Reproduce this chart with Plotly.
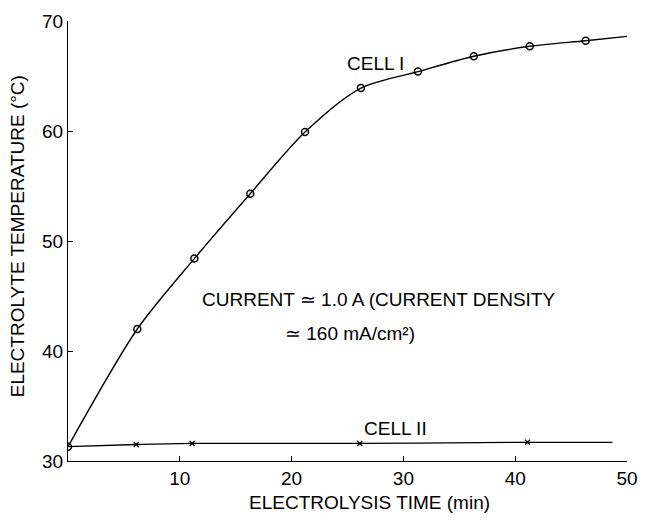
import plotly.graph_objects as go

# ---- data ----
cell1_t = [0, 6.2, 11.3, 16.3, 21.2, 26.2, 31.3, 36.3, 41.3, 46.3]
cell1_T = [31.3, 42.0, 48.4, 54.3, 59.9, 63.9, 65.4, 66.8, 67.7, 68.2]
cell1_curve_t = cell1_t + [50.0]
cell1_curve_T = cell1_T + [68.6]

cell2_t = [6.1, 11.1, 26.1, 41.1]
cell2_T = [31.5, 31.6, 31.6, 31.7]
cell2_line_t = [0] + cell2_t + [48.7]
cell2_line_T = [31.3] + cell2_T + [31.7]

x_ticks = [10, 20, 30, 40, 50]
y_ticks = [30, 40, 50, 60, 70]

FONT = "Liberation Sans, Arial, Helvetica, sans-serif"

fig = go.Figure()
fig.add_trace(go.Scatter(x=cell1_curve_t, y=cell1_curve_T, mode="lines",
                         line=dict(color="black", width=1.4, shape="spline", smoothing=0.8),
                         hoverinfo="skip", showlegend=False))
fig.add_trace(go.Scatter(x=cell1_t, y=cell1_T, mode="markers",
                         marker=dict(symbol="circle-open", size=7, color="black",
                                     line=dict(width=1.5, color="black")),
                         showlegend=False))
fig.add_trace(go.Scatter(x=cell2_line_t, y=cell2_line_T, mode="lines",
                         line=dict(color="black", width=1.3, shape="spline"),
                         hoverinfo="skip", showlegend=False))
fig.add_trace(go.Scatter(x=cell2_t, y=cell2_T, mode="markers",
                         marker=dict(symbol="x-thin-open", size=5, color="black",
                                     line=dict(width=1.4, color="black")),
                         showlegend=False))

ann_font = dict(family=FONT, size=19, color="black")
fig.add_annotation(x=27.5, y=66.1, text="CELL I", showarrow=False, font=ann_font,
                   xanchor="center", yanchor="middle")
fig.add_annotation(x=29.3, y=33.0, text="CELL II", showarrow=False, font=ann_font,
                   xanchor="center", yanchor="middle")
fig.add_annotation(x=(203 - 68) / 11.4, y=30 + (461 - 298) / 11.08,
                   text="CURRENT \u2243 1.0 A (CURRENT DENSITY", showarrow=False,
                   font=ann_font, xanchor="left", yanchor="middle")
fig.add_annotation(x=(287 - 68) / 11.4, y=30 + (461 - 333) / 11.08,
                   text="\u2243 160 mA/cm\u00b2)", showarrow=False,
                   font=ann_font, xanchor="left", yanchor="middle")

# axis titles
fig.add_annotation(xref="paper", yref="paper", x=0.54, y=-0.095,
                   text="ELECTROLYSIS TIME (min)", showarrow=False, font=ann_font,
                   xanchor="center", yanchor="middle")
fig.add_annotation(xref="paper", yref="paper", x=-0.09, y=0.51, textangle=-90,
                   text="ELECTROLYTE TEMPERATURE (\u00b0C)", showarrow=False, font=ann_font,
                   xanchor="center", yanchor="middle")

axis_common = dict(showline=True, linecolor="black", linewidth=1.3, showgrid=False,
                   zeroline=False, ticks="inside", ticklen=5, tickwidth=1.3,
                   tickcolor="black", tickfont=dict(family=FONT, size=19, color="black"))
fig.update_xaxes(range=[0, 50], tickvals=x_ticks, ticktext=[str(v) for v in x_ticks],
                 **axis_common)
fig.update_yaxes(range=[30, 70], tickvals=y_ticks, ticktext=[str(v) for v in y_ticks],
                 **axis_common)

fig.update_layout(width=649, height=520, margin=dict(l=68, r=11, t=18, b=59),
                  plot_bgcolor="white", paper_bgcolor="white", showlegend=False)

fig.write_html("out.html")
